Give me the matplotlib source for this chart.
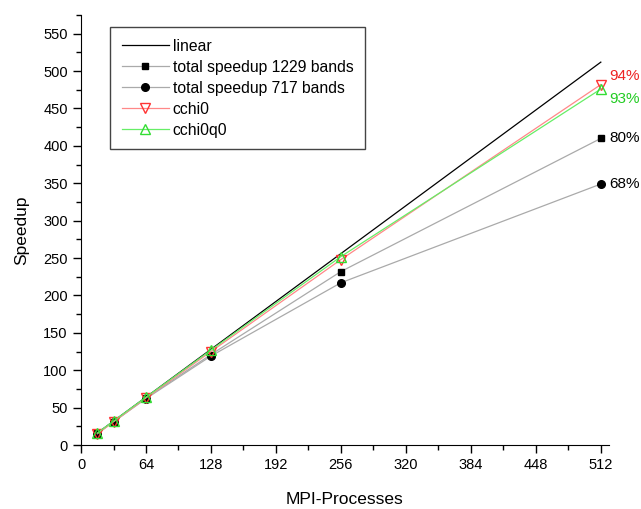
import matplotlib
matplotlib.use("Agg")
import matplotlib.pyplot as plt
from matplotlib.ticker import MultipleLocator

plt.rcParams['font.family'] = ['Liberation Sans', 'DejaVu Sans']

procs = [16, 32, 64, 128, 256, 512]
linear = [16, 32, 64, 128, 256, 512]
speedup_1229 = [16, 31, 63, 121, 232, 410]
speedup_717 = [15, 31, 62, 119, 217, 349]
cchi0 = [15, 31, 63, 125, 248, 482]
cchi0q0 = [16, 32, 64, 127, 252, 476]
eff_labels = ["94%", "93%", "80%", "68%"]
eff_values = [cchi0[-1], cchi0q0[-1], speedup_1229[-1], speedup_717[-1]]
eff_colors = ["#ee2222", "#22cc22", "black", "black"]

fig = plt.figure(figsize=(6.41, 5.09), dpi=100)
ax = fig.add_axes([0.1264, 0.1257, 0.8236, 0.8448])

ax.plot(procs, linear, color="black", lw=0.9, label="linear")
ax.plot(procs, speedup_1229, color="#aaaaaa", lw=0.9, marker="s", ms=5,
        mfc="black", mec="black", label="total speedup 1229 bands")
ax.plot(procs, speedup_717, color="#aaaaaa", lw=0.9, marker="o", ms=5.5,
        mfc="black", mec="black", label="total speedup 717 bands")
ax.plot(procs, cchi0, color="#ff8888", lw=0.9, marker="v", ms=7,
        mfc="none", mec="#ff3333", label="cchi0")
ax.plot(procs, cchi0q0, color="#66ee66", lw=0.9, marker="^", ms=7,
        mfc="none", mec="#33dd33", label="cchi0q0")

offsets = [6, -7, 0, 0]
for lab, val, col, off in zip(eff_labels, eff_values, eff_colors, offsets):
    ax.annotate(lab, xy=(procs[-1], val), xytext=(6, off), textcoords="offset points",
                color=col, fontsize=11, va="center", ha="left", annotation_clip=False)

ax.set_xlim(0, 520)
ax.set_ylim(0, 575)
ax.xaxis.set_major_locator(MultipleLocator(64))
ax.xaxis.set_minor_locator(MultipleLocator(32))
ax.yaxis.set_minor_locator(MultipleLocator(25))
ax.set_yticks(range(0, 551, 50))
ax.tick_params(which="major", direction="out", length=6, width=1, labelsize=10.5, colors="black")
ax.tick_params(which="minor", direction="out", length=3.5, width=1)
ax.spines["top"].set_visible(False)
ax.spines["right"].set_visible(False)
ax.set_xlabel("MPI-Processes", fontsize=12.5, labelpad=14)
ax.set_ylabel("Speedup", fontsize=12.5, labelpad=10)

leg = ax.legend(loc="upper left", bbox_to_anchor=(0.055, 0.972), fontsize=11.3,
                fancybox=False, edgecolor="#444444", framealpha=1, borderaxespad=0,
                handlelength=3.0, borderpad=0.75, labelspacing=0.38, handletextpad=0.25)
leg.get_frame().set_linewidth(1.0)

fig.savefig("out.png", dpi=100)
